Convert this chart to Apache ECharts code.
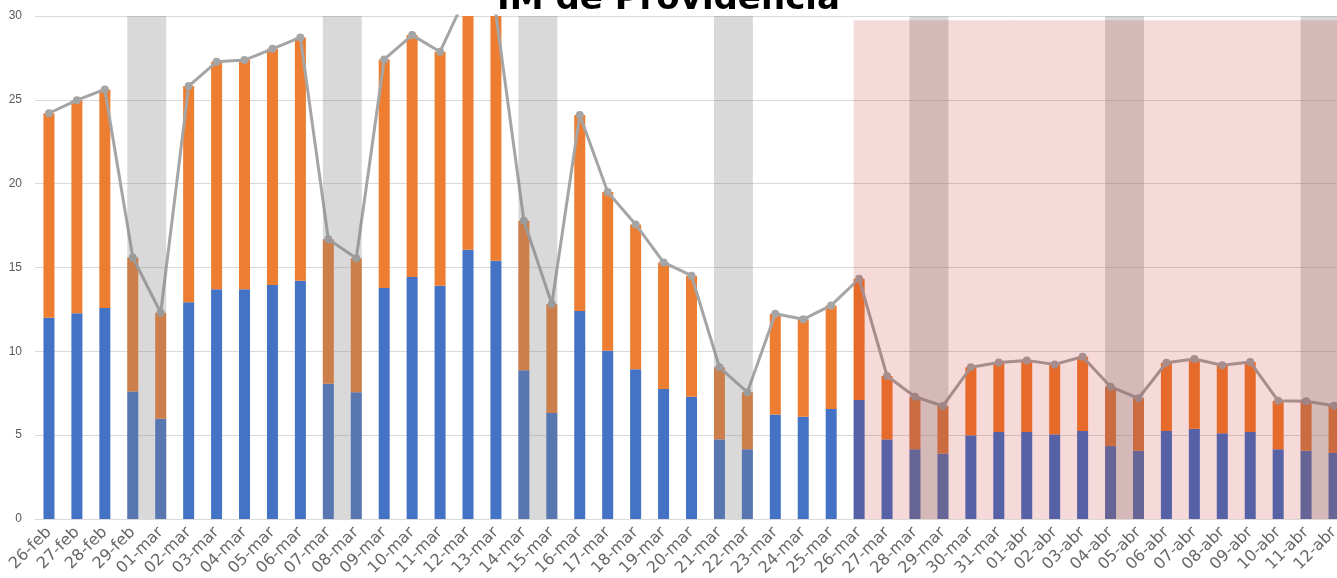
<!DOCTYPE html>
<html>
<head>
<meta charset="utf-8">
<script src="https://cdn.jsdelivr.net/npm/echarts@6/dist/echarts.min.js"></script>
<style>
  html, body { margin: 0; padding: 0; background: #fff; }
  #chart { width: 1337px; height: 578px; }
</style>
</head>
<body>
<div id="chart"></div>
<script>
var dias = ['26-feb', '27-feb', '28-feb', '29-feb', '01-mar', '02-mar', '03-mar', '04-mar', '05-mar', '06-mar',
  '07-mar', '08-mar', '09-mar', '10-mar', '11-mar', '12-mar', '13-mar', '14-mar', '15-mar', '16-mar',
  '17-mar', '18-mar', '19-mar', '20-mar', '21-mar', '22-mar', '23-mar', '24-mar', '25-mar', '26-mar',
  '27-mar', '28-mar', '29-mar', '30-mar', '31-mar', '01-abr', '02-abr', '03-abr', '04-abr', '05-abr',
  '06-abr', '07-abr', '08-abr', '09-abr', '10-abr', '11-abr', '12-abr'];

// parte inferior (azul)
var serieAzul = [12.0, 12.27, 12.58, 7.61, 5.98, 12.92, 13.7, 13.7, 13.95, 14.21,
  8.07, 7.56, 13.77, 14.43, 13.91, 16.06, 15.4, 8.87, 6.32, 12.4,
  10.04, 8.93, 7.75, 7.29, 4.75, 4.16, 6.24, 6.1, 6.56, 7.1,
  4.75, 4.16, 3.9, 4.99, 5.19, 5.19, 5.05, 5.25, 4.35, 4.07,
  5.25, 5.38, 5.11, 5.19, 4.16, 4.07, 3.94];

// parte superior (naranja)
var serieNaranja = [12.2, 12.71, 13.04, 7.99, 6.32, 12.9, 13.57, 13.67, 14.09, 14.51,
  8.61, 7.99, 13.64, 14.43, 13.96, 15.39, 14.7, 8.92, 6.5, 11.69,
  9.46, 8.64, 7.55, 7.22, 4.3, 3.4, 6.0, 5.81, 6.18, 7.23,
  3.78, 3.13, 2.84, 4.06, 4.15, 4.27, 4.17, 4.43, 3.54, 3.13,
  4.07, 4.16, 4.06, 4.17, 2.89, 2.95, 2.82];

// total (linea gris)
var serieTotal = [24.2, 24.98, 25.62, 15.6, 12.3, 25.82, 27.27, 27.37, 28.04, 28.72,
  16.68, 15.55, 27.41, 28.86, 27.87, 31.45, 30.1, 17.79, 12.82, 24.09,
  19.5, 17.57, 15.3, 14.51, 9.05, 7.56, 12.24, 11.91, 12.74, 14.33,
  8.53, 7.29, 6.74, 9.05, 9.34, 9.46, 9.22, 9.68, 7.89, 7.2,
  9.32, 9.54, 9.17, 9.36, 7.05, 7.02, 6.76];

// fines de semana: [inicio, fin, alto]
var findes = [[3, 4, 30], [10, 11, 30], [17, 18, 30], [24, 25, 30], [31, 32, 30], [38, 39, 30], [45, 46, 30]];
// zona de proyeccion: [inicio, fin, alto]
var proyeccion = [[29, 46, 29.75]];

var chart = echarts.init(document.getElementById('chart'));

function banda(hastaElBorde) {
  return function (params, api) {
    var half = 5.5;
    var p0 = api.coord([api.value(0), api.value(2)]);
    var p1 = api.coord([api.value(1), 0]);
    var cs = params.coordSys;
    var x0 = p0[0] - half;
    var x1 = hastaElBorde ? cs.x + cs.width : p1[0] + half;
    var shape = echarts.graphic.clipRectByRect(
      { x: x0, y: p0[1], width: x1 - x0, height: p1[1] - p0[1] },
      { x: cs.x, y: cs.y, width: cs.width, height: cs.height }
    );
    return shape && { type: 'rect', shape: shape, style: api.style() };
  };
}

var option = {
  backgroundColor: '#fff',
  animation: false,
  graphic: [{
    type: 'text',
    left: 'center',
    top: -17,
    style: {
      text: 'IM de Providencia',
      font: 'bold 34px "DejaVu Sans"',
      fill: '#000'
    }
  }],
  grid: {
    left: 35,
    width: 1313,
    top: 16,
    bottom: 59,
    outerBoundsMode: 'none'
  },
  xAxis: {
    type: 'category',
    data: dias,
    axisTick: { show: false },
    axisLine: { lineStyle: { color: '#d9d9d9', width: 1 } },
    axisLabel: {
      interval: 0,
      rotate: 45,
      margin: 11,
      color: '#666',
      fontFamily: 'DejaVu Sans',
      fontSize: 16
    }
  },
  yAxis: {
    type: 'value',
    min: 0,
    max: 30,
    interval: 5,
    axisLine: { show: false },
    axisTick: { show: false },
    splitLine: { lineStyle: { color: '#d9d9d9', width: 1 } },
    axisLabel: {
      color: '#595959',
      fontFamily: 'Liberation Sans',
      fontSize: 12,
      margin: 13
    }
  },
  series: [
    {
      name: 'Azul',
      type: 'bar',
      stack: 'im',
      barWidth: 11,
      z: 2,
      itemStyle: { color: '#4472C4' },
      data: serieAzul
    },
    {
      name: 'Naranja',
      type: 'bar',
      stack: 'im',
      barWidth: 11,
      z: 2,
      itemStyle: { color: '#ED7D31' },
      data: serieNaranja
    },
    {
      name: 'Total',
      type: 'line',
      z: 3,
      symbol: 'circle',
      symbolSize: 8,
      itemStyle: { color: '#A5A5A5' },
      lineStyle: { color: '#A5A5A5', width: 3 },
      data: serieTotal
    },
    {
      name: 'Fin de semana',
      type: 'custom',
      z: 4,
      renderItem: banda(false),
      itemStyle: { color: 'rgba(132,132,132,0.31)' },
      encode: { x: [0, 1], y: 2 },
      data: findes
    },
    {
      name: 'Proyeccion',
      type: 'custom',
      z: 5,
      renderItem: banda(true),
      itemStyle: { color: 'rgba(192,0,0,0.15)' },
      encode: { x: [0, 1], y: 2 },
      data: proyeccion
    }
  ]
};

chart.setOption(option);
</script>
</body>
</html>
